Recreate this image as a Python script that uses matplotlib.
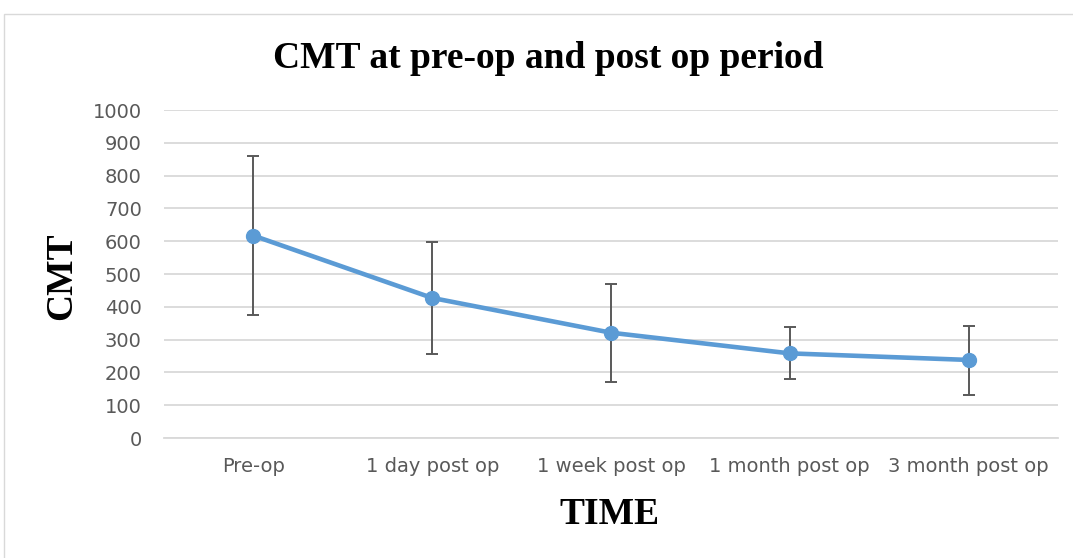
import matplotlib
matplotlib.use("Agg")
import matplotlib.pyplot as plt
from matplotlib.patches import Rectangle

# values
periods = ["Pre-op", "1 day post op", "1 week post op", "1 month post op", "3 month post op"]
cmt_mean = [617, 427, 321, 258, 238]
err_upper = [859, 598, 470, 338, 342]
err_lower = [375, 255, 172, 179, 132]

yticks = list(range(0, 1001, 100))

BLUE = "#5B9BD5"
GREY = "#595959"
GRID = "#D9D9D9"
TICK_FONT = ["Liberation Sans Narrow", "DejaVu Sans"]
SERIF = ["Liberation Serif", "DejaVu Serif"]

fig = plt.figure(figsize=(10.73, 5.58), dpi=100)
ax = fig.add_axes([164 / 1073, 1 - 438 / 558, (1058 - 164) / 1073, (438 - 110) / 558])

# chart frame (light border like the office chart area)
fig.patches.append(Rectangle((4 / 1073, -0.1), 1.2, 1 - 14 / 558 + 0.1,
                             transform=fig.transFigure, fill=False,
                             edgecolor="#D9D9D9", lw=1.0))

x = list(range(len(periods)))
yerr = [[m - lo for m, lo in zip(cmt_mean, err_lower)],
        [hi - m for m, hi in zip(cmt_mean, err_upper)]]

ax.errorbar(x, cmt_mean, yerr=yerr, fmt="none", ecolor=GREY, elinewidth=1.4,
            capsize=4.5, capthick=1.4, zorder=2)
ax.plot(x, cmt_mean, color=BLUE, lw=3.3, marker="o", ms=10, zorder=3)

ax.set_xlim(-0.5, len(periods) - 0.5)
ax.set_ylim(0, 1000)
ax.set_yticks(yticks)
ax.set_xticks(x)
ax.set_xticklabels(periods)
ax.yaxis.grid(True, color=GRID, lw=1.3)
ax.set_axisbelow(True)
for s in ["top", "right", "left"]:
    ax.spines[s].set_visible(False)
ax.spines["bottom"].set_color(GRID)
ax.spines["bottom"].set_linewidth(1.3)
ax.tick_params(length=0, colors=GREY, labelsize=14)
ax.tick_params(axis="y", pad=16)
ax.tick_params(axis="x", pad=14)
for lab in ax.get_xticklabels() + ax.get_yticklabels():
    lab.set_family(TICK_FONT)

fig.text(548 / 1073, 1 - 58 / 558, "CMT at pre-op and post op period",
         ha="center", va="center", family=SERIF, weight="bold", fontsize=27)
fig.text(610 / 1073, 1 - 514 / 558, "TIME", ha="center", va="center",
         family=SERIF, weight="bold", fontsize=27)
fig.text(62 / 1073, 1 - 276 / 558, "CMT", ha="center", va="center", rotation=90,
         family=SERIF, weight="bold", fontsize=27)

fig.savefig("out.png", dpi=100)
